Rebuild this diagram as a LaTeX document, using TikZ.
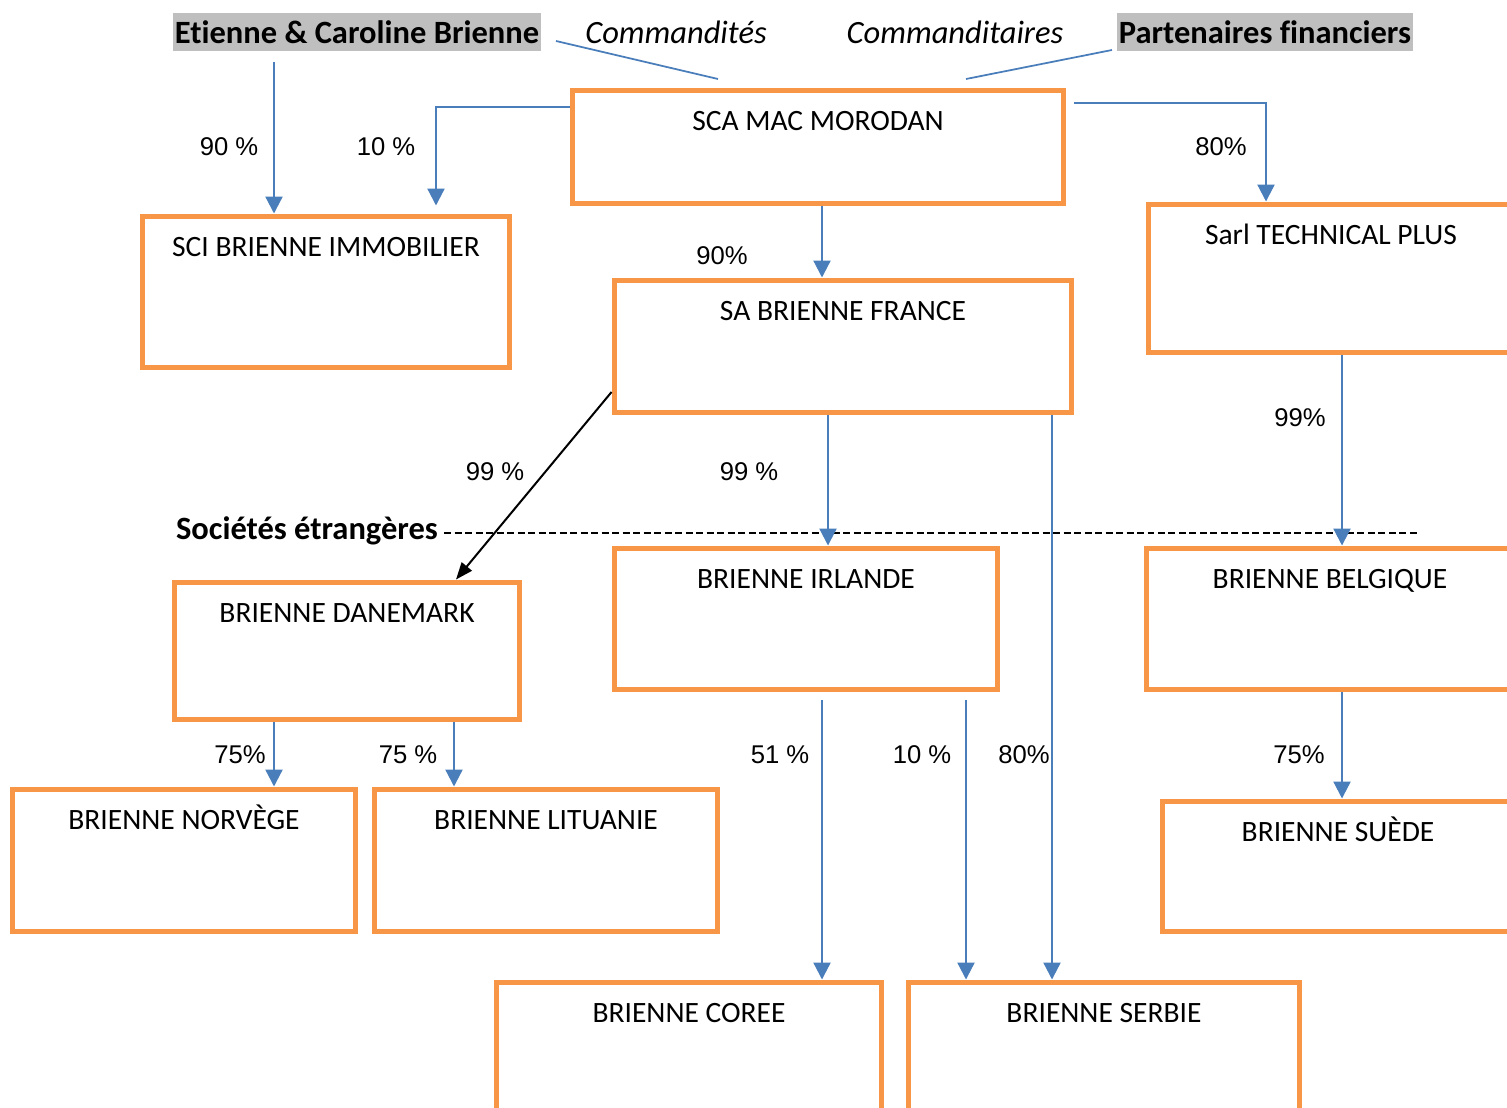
\documentclass[tikz,border=0pt]{standalone}
\usepackage{fontspec}
\setmainfont{Carlito}[Ligatures=CommonOff]
\newfontfamily\arialfont{Liberation Sans}
\usetikzlibrary{arrows.meta}
\definecolor{orangebox}{HTML}{F79646}
\definecolor{bleulien}{HTML}{4A7EBB}
\definecolor{grisfond}{HTML}{BFBFBF}
\tikzset{
  societe/.style={draw=orangebox, line width=0.1cm, inner sep=0pt},
  nom/.style={anchor=base, inner sep=0pt, yshift=-0.86cm,
    font=\fontsize{16.8}{20}\selectfont},
  entete/.style={fill=grisfond, inner xsep=0.04cm, minimum height=0.76cm,
    font=\fontsize{18.5}{22}\selectfont\bfseries},
  role/.style={font=\fontsize{18.5}{22}\selectfont\itshape},
  pct/.style={font=\arialfont\fontsize{14.6}{17}\selectfont},
  lien/.style={draw=bleulien, line width=0.045cm,
    -{Triangle[width=0.34cm,length=0.34cm]}},
  trait/.style={draw=bleulien, line width=0.035cm},
  fleche/.style={draw=black, line width=0.04cm,
    -{Triangle[width=0.26cm,length=0.34cm]}},
  pointille/.style={draw=black, line width=0.03cm,
    dash pattern=on 0.14cm off 0.07cm}
}

\begin{document}
\begin{tikzpicture}[x=0.02cm, y=-0.02cm]
   \useasboundingbox (0,0) rectangle (1507,1108);
   \clip (0,0) rectangle (1507,1108);
   %
   % associes et roles
   \node[entete] (ecb) at (357,32) {Etienne \& Caroline Brienne};
   \node[role] (cmdt) at (676,32) {Commandités};
   \node[role] (cmdr) at (955,32) {Commanditaires};
   \node[entete] (pf) at (1265,32) {Partenaires financiers};
   \coordinate (cmdt-a) at (556,41);
   \coordinate (cmdt-b) at (718,79);
   \coordinate (cmdr-a) at (1112,50);
   \coordinate (cmdr-b) at (966,79);
   \draw[trait] (cmdt-a) -- (cmdt-b);
   \draw[trait] (cmdr-a) -- (cmdr-b);
   %
   % societes
   \node[societe, minimum width=9.84cm, minimum height=2.28cm,
     label={[nom]north:SCA MAC MORODAN}] (sca) at (818,147) {};
   \node[societe, minimum width=7.36cm, minimum height=3.04cm,
     label={[nom]north:SCI BRIENNE IMMOBILIER}] (sci) at (326,292) {};
   \node[societe, minimum width=9.16cm, minimum height=2.66cm,
     label={[nom]north:SA BRIENNE FRANCE}] (saf) at (843,346.5) {};
   \node[societe, minimum width=7.32cm, minimum height=2.98cm,
     label={[nom]north:Sarl TECHNICAL PLUS}] (sarl) at (1331,278.5) {};
   \node[societe, minimum width=6.92cm, minimum height=2.76cm,
     label={[nom]north:BRIENNE DANEMARK}] (dan) at (347,651) {};
   \node[societe, minimum width=7.68cm, minimum height=2.84cm,
     label={[nom]north:BRIENNE IRLANDE}] (irl) at (806,619) {};
   \node[societe, minimum width=7.36cm, minimum height=2.84cm,
     label={[nom]north:BRIENNE BELGIQUE}] (bel) at (1330,619) {};
   \node[societe, minimum width=6.88cm, minimum height=2.86cm,
     label={[nom]north:BRIENNE NORVÈGE}] (nor) at (184,860.5) {};
   \node[societe, minimum width=6.88cm, minimum height=2.86cm,
     label={[nom]north:BRIENNE LITUANIE}] (lit) at (546,860.5) {};
   \node[societe, minimum width=7.04cm, minimum height=2.62cm,
     label={[nom]north:BRIENNE SUÈDE}] (sue) at (1338,866.5) {};
   \node[societe, minimum width=7.72cm, minimum height=3.2cm,
     label={[nom]north:BRIENNE COREE}] (cor) at (689,1062) {};
   \node[societe, minimum width=7.84cm, minimum height=3.2cm,
     label={[nom]north:BRIENNE SERBIE}] (ser) at (1104,1062) {};
   %
   % limite des societes etrangeres
   \node[role, font=\fontsize{18.5}{22}\selectfont\bfseries] (etr) at (307,531)
     {Sociétés étrangères};
   \draw[pointille] ([yshift=-0.04cm]etr.east) -- ([yshift=-0.04cm]etr.east -| 1418,0);
   %
   % participations
   \draw[lien, shorten <=0.22cm] (ecb.south -| 274,0) -- (sci.north -| 274,0);
   \draw[lien, shorten >=0.16cm] (sca.west |- 0,107) -| (sci.north -| 436,0);
   \draw[lien, shorten <=0.16cm] (sca.east |- 0,103) -| (sarl.north -| 1266,0);
   \draw[lien] (sca.south -| 822,0) -- (saf.north -| 822,0);
   \draw[fleche] (saf.west |- 0,392) -- (dan.north -| 456,0);
   \draw[lien] (saf.south -| 828,0) -- (irl.north -| 828,0);
   \draw[lien] (saf.south -| 1052,0) -- (ser.north -| 1052,0);
   \draw[lien] (sarl.south -| 1342,0) -- (bel.north -| 1342,0);
   \draw[lien] (dan.south -| 274,0) -- (nor.north -| 274,0);
   \draw[lien] (dan.south -| 454,0) -- (lit.north -| 454,0);
   \draw[lien, shorten <=0.16cm] (irl.south -| 822,0) -- (cor.north -| 822,0);
   \draw[lien, shorten <=0.16cm] (irl.south -| 966,0) -- (ser.north -| 966,0);
   \draw[lien] (bel.south -| 1342,0) -- (sue.north -| 1342,0);
   %
   % pourcentages
   \foreach \n/\x/\y/\t in {a/229/147/90 \%, b/386/147/10 \%, c/1221/147/80\%,
       d/722/256/90\%, e/495/472/99 \%, f/749/472/99 \%, g/1300/418/99\%,
       h/240/755/75\%, i/408/755/75 \%, j/780/755/51 \%, k/922/755/10 \%,
       l/1024/755/80\%, m/1299/755/75\%}
     \node[pct] (pct-\n) at (\x,\y) {\t};
   %
\end{tikzpicture}
\end{document}
